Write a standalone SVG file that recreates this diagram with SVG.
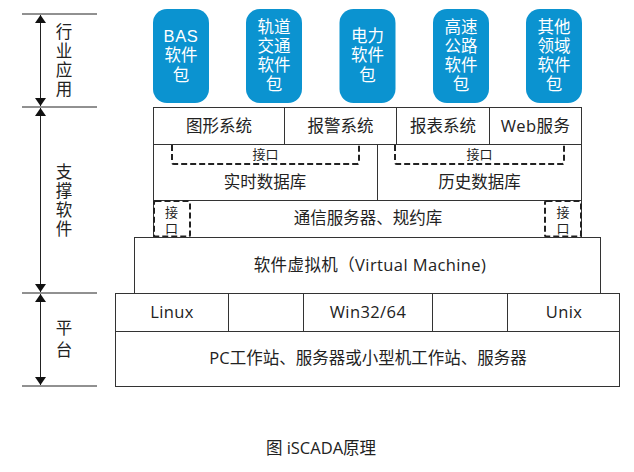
<svg xmlns="http://www.w3.org/2000/svg" width="634" height="472" viewBox="0 0 634 472">
<style>
text{font-family:"Open Sans","Noto Sans CJK SC",sans-serif;fill:#222;text-anchor:middle}
.t{font-size:16.5px}
.l{letter-spacing:0.4px}
.s{font-size:13px}
.v{font-family:"Noto Sans CJK SC",sans-serif;writing-mode:vertical-rl;text-anchor:start}
.w{font-family:"Liberation Sans","Noto Sans CJK SC",sans-serif;font-size:16.5px;fill:#fff}
.box{fill:#fff;stroke:#333;stroke-width:1}
.ln{stroke:#333;stroke-width:1;fill:none}
.dash{fill:none;stroke:#222;stroke-width:2;stroke-dasharray:6,3}
.pkg{fill:#0B93D0}
.dim{stroke:#222;stroke-width:1;fill:none}
</style>
<defs>
<marker id="ah" viewBox="0 0 10 10" refX="10" refY="5" markerWidth="8" markerHeight="11" markerUnits="userSpaceOnUse" orient="auto-start-reverse" preserveAspectRatio="none">
<path d="M0,0 L10,5 L0,10 z" fill="#111"/>
</marker>
</defs>
<g id="scale">
<line class="dim" x1="22" y1="14" x2="97" y2="14"/>
<line class="dim" x1="22" y1="107" x2="97" y2="107"/>
<line class="dim" x1="22" y1="293" x2="97" y2="293"/>
<line class="dim" x1="22" y1="386" x2="97" y2="386"/>
</g>
<g id="connectors">
<line class="dim" x1="40.5" y1="15" x2="40.5" y2="106" marker-start="url(#ah)" marker-end="url(#ah)"/>
<line class="dim" x1="40.5" y1="108" x2="40.5" y2="292" marker-start="url(#ah)" marker-end="url(#ah)"/>
<line class="dim" x1="40.5" y1="294" x2="40.5" y2="385" marker-start="url(#ah)" marker-end="url(#ah)"/>
</g>
<g id="label-app">
<text class="t v" x="64" y="23.5" style="letter-spacing:2.5px">行业应用</text>
</g>
<g id="label-support">
<text class="t v" x="64" y="163.5" style="letter-spacing:2.6px">支撑软件</text>
</g>
<g id="label-platform">
<text class="t v" x="64" y="319.5" style="letter-spacing:5.5px">平台</text>
</g>
<g id="pkg-bas">
<rect class="pkg" x="153" y="9" width="56" height="94" rx="14"/>
<text class="w" x="181" y="41.5"><tspan x="181" style="letter-spacing:0.6px">BAS</tspan><tspan x="181" dy="19.5">软件</tspan><tspan x="181" dy="19.5">包</tspan></text>
</g>
<g id="pkg-rail">
<rect class="pkg" x="246" y="9" width="56" height="94" rx="14"/>
<text class="w" x="274" y="32.5"><tspan x="274">轨道</tspan><tspan x="274" dy="19.3">交通</tspan><tspan x="274" dy="19.3">软件</tspan><tspan x="274" dy="19.3">包</tspan></text>
</g>
<g id="pkg-power">
<rect class="pkg" x="339.5" y="9" width="56" height="94" rx="14"/>
<text class="w" x="367.5" y="41.5"><tspan x="367.5">电力</tspan><tspan x="367.5" dy="19.5">软件</tspan><tspan x="367.5" dy="19.5">包</tspan></text>
</g>
<g id="pkg-highway">
<rect class="pkg" x="433" y="9" width="56" height="94" rx="14"/>
<text class="w" x="461" y="32.5"><tspan x="461">高速</tspan><tspan x="461" dy="19.3">公路</tspan><tspan x="461" dy="19.3">软件</tspan><tspan x="461" dy="19.3">包</tspan></text>
</g>
<g id="pkg-other">
<rect class="pkg" x="526" y="9" width="56" height="94" rx="14"/>
<text class="w" x="554" y="32.5"><tspan x="554">其他</tspan><tspan x="554" dy="19.3">领域</tspan><tspan x="554" dy="19.3">软件</tspan><tspan x="554" dy="19.3">包</tspan></text>
</g>
<g id="row-apps">
<rect class="box" x="153.5" y="107.5" width="428" height="37"/>
<line class="ln" x1="284.5" y1="107.5" x2="284.5" y2="144.5"/>
<line class="ln" x1="396.5" y1="107.5" x2="396.5" y2="144.5"/>
<line class="ln" x1="489.5" y1="107.5" x2="489.5" y2="144.5"/>
<text class="t" x="219" y="131.5">图形系统</text>
<text class="t" x="340.5" y="131.5">报警系统</text>
<text class="t" x="443" y="131.5">报表系统</text>
<text class="t l" x="535.5" y="131.5">Web服务</text>
</g>
<g id="rtdb">
<rect class="box" x="153.5" y="144.5" width="224" height="56"/>
<path class="dash" d="M172,145 V162 Q172,164 174,164 H357 Q359,164 359,162 V145"/>
<text class="s" x="265.5" y="159">接口</text>
<text class="t" x="265" y="188">实时数据库</text>
</g>
<g id="hisdb">
<rect class="box" x="377.5" y="144.5" width="204" height="56"/>
<path class="dash" d="M395,145 V162 Q395,164 397,164 H562 Q564,164 564,162 V145"/>
<text class="s" x="479.5" y="159">接口</text>
<text class="t" x="479.5" y="188">历史数据库</text>
</g>
<g id="comm">
<rect class="box" x="153.5" y="200.5" width="428" height="37"/>
<rect class="dash" x="154" y="201" width="36" height="35.5" rx="1.5"/>
<rect class="dash" x="545" y="201" width="36" height="35.5" rx="1.5"/>
<text class="s v" x="171.5" y="205.5" style="letter-spacing:3px">接口</text>
<text class="s v" x="563" y="205.5" style="letter-spacing:3px">接口</text>
<text class="t" x="368" y="223.5">通信服务器、规约库</text>
</g>
<g id="vm">
<rect class="box" x="134.5" y="237.5" width="466" height="56"/>
<text class="t l" x="370" y="271">软件虚拟机（Virtual Machine)</text>
</g>
<g id="os">
<rect class="box" x="115.5" y="293.5" width="504" height="38"/>
<line class="ln" x1="228.5" y1="293.5" x2="228.5" y2="331.5"/>
<line class="ln" x1="303.5" y1="293.5" x2="303.5" y2="331.5"/>
<line class="ln" x1="432.5" y1="293.5" x2="432.5" y2="331.5"/>
<line class="ln" x1="507.5" y1="293.5" x2="507.5" y2="331.5"/>
<text class="t l" x="172" y="317.5">Linux</text>
<text class="t l" x="368" y="317.5">Win32/64</text>
<text class="t l" x="564" y="317.5">Unix</text>
</g>
<g id="hw">
<rect class="box" x="115.5" y="331.5" width="504" height="55"/>
<text class="t" x="368" y="364">PC工作站、服务器或小型机工作站、服务器</text>
</g>
<text class="t" x="321" y="453.5">图 iSCADA原理</text>
</svg>
